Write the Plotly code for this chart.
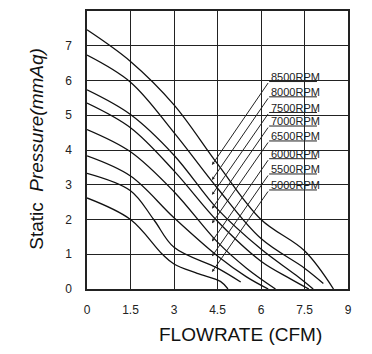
import plotly.graph_objects as go

# ---- data (CFM, mmAq) ----
rpm_labels = ["8500RPM", "8000RPM", "7500RPM", "7000RPM", "6500RPM", "6000RPM", "5500RPM", "5000RPM"]

flow_8500 = [0, 1.5, 3, 4.5, 6, 7.5, 8.5]
pres_8500 = [7.46, 6.55, 5.3, 3.6, 2.0, 1.1, 0]
flow_8000 = [0, 1.5, 3, 4.5, 6, 7.5, 8.15]
pres_8000 = [6.73, 5.95, 4.5, 2.9, 1.45, 0.6, 0.16]
flow_7500 = [0, 1.5, 3, 4.5, 6, 7.2, 7.8]
pres_7500 = [5.73, 5.02, 3.85, 2.3, 1.15, 0.4, 0]
flow_7000 = [0, 1.5, 3, 4.5, 6, 7.0, 7.65]
pres_7000 = [5.35, 4.64, 3.4, 1.95, 0.8, 0.3, 0]
flow_6500 = [0, 1.5, 3, 4.5, 5.5, 6.5]
pres_6500 = [4.59, 3.95, 2.8, 1.35, 0.6, 0]
flow_6000 = [0, 1.5, 3, 4.5, 5.5, 6.25]
pres_6000 = [3.83, 3.25, 2.05, 0.95, 0.35, 0]
flow_5500 = [0, 1.5, 2.3, 3, 4.5, 5.3]
pres_5500 = [3.33, 2.83, 2.0, 1.2, 0.6, 0.2]
flow_5000 = [0, 1.5, 2.6, 3, 3.8, 4.6, 4.86]
pres_5000 = [2.62, 2.0, 1.0, 0.72, 0.45, 0.22, 0]

x_ticks = [0, 1.5, 3, 4.5, 6, 7.5, 9]
x_tick_text = ["0", "1.5", "3", "4.5", "6", "7.5", "9"]
y_ticks = [0, 1, 2, 3, 4, 5, 6, 7]

# label placement (data units)
label_x = 6.31
label_y = [6.11, 5.67, 5.22, 4.83, 4.40, 3.89, 3.45, 2.99]
underline_end_x = 7.93
arrow_x = 4.31
arrow_y = [3.57, 3.14, 2.71, 2.31, 1.89, 1.37, 0.94, 0.49]

FONT = "Arial, Liberation Sans, sans-serif"

fig = go.Figure()
series = [(flow_8500, pres_8500), (flow_8000, pres_8000), (flow_7500, pres_7500),
          (flow_7000, pres_7000), (flow_6500, pres_6500), (flow_6000, pres_6000),
          (flow_5500, pres_5500), (flow_5000, pres_5000)]
for (fx, py), name in zip(series, rpm_labels):
    fig.add_trace(go.Scatter(x=fx, y=py, mode="lines", name=name,
                             line=dict(color="#111", width=1.3, shape="spline", smoothing=1.0),
                             showlegend=False, hoverinfo="skip"))

# labels, underlines and leader lines
for name, ly, ay in zip(rpm_labels, label_y, arrow_y):
    fig.add_annotation(x=label_x, y=ly, text=name, showarrow=False, xanchor="left",
                       yanchor="middle", xshift=-1,
                       font=dict(family=FONT, size=11, color="#222"))
    uy = ly - 0.14
    fig.add_shape(type="line", x0=label_x - 0.03, y0=uy, x1=underline_end_x, y1=uy,
                  line=dict(color="#222", width=1))
    fig.add_annotation(x=arrow_x, y=ay, ax=label_x - 0.03, ay=uy, axref="x", ayref="y",
                       xref="x", yref="y", text="", showarrow=True, arrowhead=2,
                       arrowsize=0.6, arrowwidth=1, arrowcolor="#222", standoff=0,
                       startstandoff=0)

fig.add_annotation(xref="paper", yref="paper", x=-0.192, y=0.504, xanchor="center", yanchor="middle",
                   text="Static  <i>Pressure(mmAq)</i>",
                   textangle=-90, showarrow=False, font=dict(family=FONT, size=19, color="#111"))
fig.add_annotation(xref="paper", yref="paper", x=0.588, y=-0.164, xanchor="center", yanchor="middle",
                   text="FLOWRATE (CFM)",
                   showarrow=False, font=dict(family=FONT, size=19, color="#111"))

fig.update_xaxes(range=[0, 9], tickvals=x_ticks, ticktext=x_tick_text, showgrid=True,
                 gridcolor="#222", gridwidth=1.3, showline=True, linecolor="#222", linewidth=1.5,
                 mirror=True, ticks="", zeroline=False, ticklabelstandoff=9,
                 tickfont=dict(family=FONT, size=12, color="#222"), fixedrange=True)
fig.update_yaxes(range=[0, 8], tickvals=y_ticks, showgrid=True, gridcolor="#222", gridwidth=1.3,
                 showline=True, linecolor="#222", linewidth=1.5, mirror=True, ticks="",
                 zeroline=False, ticklabelstandoff=11,
                 tickfont=dict(family=FONT, size=12, color="#222"), fixedrange=True)

fig.update_layout(width=372, height=354, margin=dict(l=87, r=24, t=9, b=65),
                  paper_bgcolor="white", plot_bgcolor="white")

fig.write_html("out.html", config={"displayModeBar": False})
